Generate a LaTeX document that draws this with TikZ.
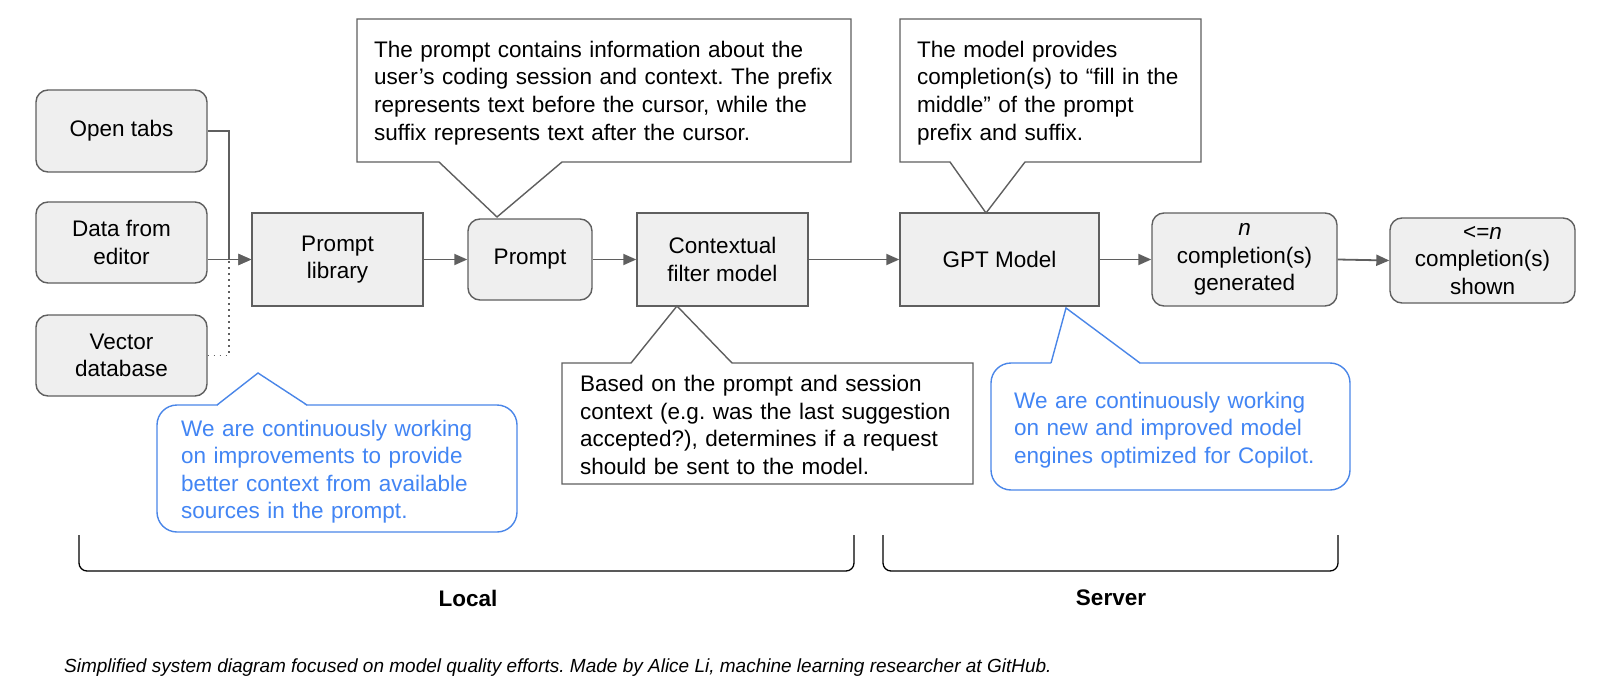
\documentclass[tikz,border=0pt]{standalone}
\usepackage{fontspec}
\setmainfont{Liberation Sans}
\usetikzlibrary{arrows.meta}
\frenchspacing

\definecolor{boxfill}{HTML}{EFEFEF}
\definecolor{boxline}{HTML}{5F5F5F}
\definecolor{noteblue}{HTML}{4A86E8}
\definecolor{notetext}{HTML}{4285F4}

\begin{document}
\begin{tikzpicture}[x=1pt, y=-1pt,
        every node/.style={font=\fontsize{22.5}{27.6}\selectfont},
        box/.style={draw=boxline, line width=1.4pt, fill=boxfill, inner sep=0pt,
            align=center, minimum width=171pt, minimum height=93pt},
        rbox/.style={box, rounded corners=12pt},
        flow/.style={draw=boxline, line width=1.8pt, -{Triangle[length=13pt, width=11pt]}},
        note/.style={draw=boxline, line width=1.4pt, fill=white},
        bluenote/.style={draw=noteblue, line width=1.4pt, fill=white},
        notetxt/.style={anchor=base west, inner sep=0pt, align=left, text width=#1}
    ]
        \useasboundingbox (0,0) rectangle (1600,695);

        % --- 入力ノード ---
        \node[rbox, minimum height=82pt] (tabs) at (121.5,131) {Open tabs};
        \node[rbox, minimum height=81pt] (editor) at (121.5,242.5) {Data from\\editor};
        \node[rbox, minimum height=81pt] (vecdb) at (121.5,355.5) {Vector\\database};

        % --- 処理の流れ ---
        \node[box] (lib) at (337.5,259.5) {Prompt\\library};
        \node[rbox, minimum width=124pt, minimum height=81pt] (prompt) at (530,259.5) {Prompt};
        \node[box] (filter) at (722.5,259.5) {Contextual\\filter model};
        \node[box, minimum width=199pt] (gpt) at (999.5,259.5) {GPT Model};
        \node[rbox, minimum width=185pt] (gen) at (1244.5,259.5) {\textit{n}\\completion(s)\\generated};
        \node[rbox, minimum width=185pt, minimum height=85pt] (shown) at (1482.5,260.5) {<=\textit{n}\\completion(s)\\shown};

        % --- 矢印 ---
        \coordinate (jn) at (229,259.5);
        \draw[flow] (tabs.east) -| (jn) -- (lib.west);
        \draw[flow] (editor.east |- lib.west) -- (lib.west);
        \draw[boxline, line width=1.4pt, dash pattern=on 1.4pt off 4.6pt] (vecdb.east) -| (jn);
        \foreach \a/\b in {lib/prompt, prompt/filter, filter/gpt, gpt/gen, gen/shown} {
            \draw[flow] (\a.east) -- (\b.west);
        }

        % --- 吹き出し (灰色) ---
        \draw[note] (357,19) -- (851,19) -- (851,162) -- (562,162) -- (497,217) -- (439,162) -- (357,162) -- cycle;
        \node[notetxt=490pt] (ptext) at (374,57.3) {The prompt contains information about the\\user’s coding session and context. The prefix\\represents text before the cursor, while the\\suffix represents text after the cursor.};

        \draw[note] (900,19) -- (1201,19) -- (1201,162) -- (1025,162) -- (986,213) -- (950,162) -- (900,162) -- cycle;
        \node[notetxt=280pt] (gtext) at (917,57.3) {The model provides\\completion(s) to “fill in the\\middle” of the prompt\\prefix and suffix.};

        \draw[note] (677,306) -- (732,363) -- (973,363) -- (973,484) -- (562,484) -- (562,363) -- (631,363) -- cycle;
        \node[notetxt=395pt] (ftext) at (580,391.7) {Based on the prompt and session\\context (e.g. was the last suggestion\\accepted?), determines if a request\\should be sent to the model.};

        % --- 吹き出し (青) ---
        \draw[bluenote, rounded corners=20pt] (157,405) rectangle (517,532);
        \fill[white] (217,406.2) -- (258,373) -- (307,406.2) -- cycle;
        \draw[noteblue, line width=1.4pt] (217,405) -- (258,373) -- (307,405);
        \node[notetxt=345pt, text=notetext] (btext1) at (181,436) {We are continuously working\\on improvements to provide\\better context from available\\sources in the prompt.};

        \draw[bluenote, rounded corners=20pt] (991,363) rectangle (1350,490);
        \fill[white] (1051,364.2) -- (1066,308) -- (1140,364.2) -- cycle;
        \draw[noteblue, line width=1.4pt] (1051,363) -- (1066,308) -- (1140,363);
        \node[notetxt=345pt, text=notetext] (btext2) at (1014,408.3) {We are continuously working\\on new and improved model\\engines optimized for Copilot.};

        % --- 括弧とラベル ---
        \draw[line width=1.3pt, rounded corners=8pt] (79,535) -- (79,571) -- (854,571) -- (854,535);
        \draw[line width=1.3pt, rounded corners=8pt] (883,535) -- (883,571) -- (1338,571) -- (1338,535);
        \node[font=\fontsize{22.5}{27.6}\selectfont\bfseries] (local) at (468,598) {Local};
        \node[font=\fontsize{22.5}{27.6}\selectfont\bfseries] (server) at (1111,598) {Server};

        % --- キャプション ---
        \node[anchor=base west, inner sep=0pt, font=\fontsize{19}{23}\selectfont\itshape] (caption) at (64,672)
            {Simplified system diagram focused on model quality efforts. Made by Alice Li, machine learning researcher at GitHub.};

    \end{tikzpicture}
\end{document}
